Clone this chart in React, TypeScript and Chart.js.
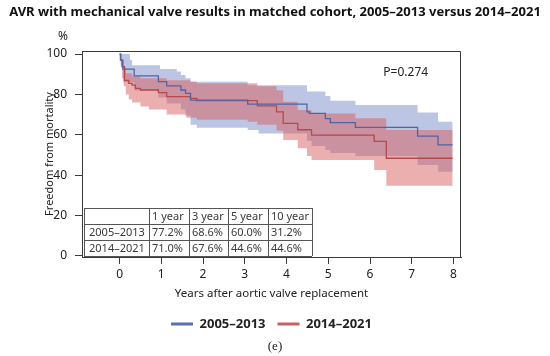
import React, { useEffect, useRef } from 'react';
import { Chart, registerables } from 'chart.js';

Chart.register(...registerables);

const TITLE = 'AVR with mechanical valve results in matched cohort, 2005–2013 versus 2014–2021';
const CAPTION = '(e)';
const X_TITLE = 'Years after aortic valve replacement';
const Y_TITLE = 'Freedom from mortality';
const Y_UNIT = '%';
const P_VALUE = 'P=0.274';
const P_AT = [6.32, 90.8];
const GROUPS = ['2005–2013', '2014–2021'];

const X_TICKS = [0, 1, 2, 3, 4, 5, 6, 7, 8];
const Y_TICKS = [0, 20, 40, 60, 80, 100];

// 2005–2013 Kaplan–Meier estimate and confidence band
const earlyTime = [0, 0.03, 0.08, 0.35, 0.93, 1.13, 1.47, 1.58, 1.7, 3.07, 4.49, 4.55, 4.93, 5.05, 5.65, 7.14, 7.63, 7.98];
const earlySurv = [100, 97, 92.5, 89.2, 86.3, 84.2, 82.2, 80.5, 77.2, 75.2, 71.4, 70.6, 68, 66, 63.7, 59.4, 55, 55];
const earlyHiTime = [0, 0.25, 0.3, 0.97, 1.37, 1.47, 1.58, 1.7, 3.07, 4.49, 4.93, 5.05, 5.65, 7.14, 7.63, 7.98];
const earlyHi = [100, 97, 94.5, 92.6, 91.3, 89.6, 88, 86.3, 84.6, 81.5, 79.2, 76.9, 74.8, 71, 66.5, 66.5];
const earlyLoTime = [0, 0.03, 0.08, 0.35, 0.93, 1.13, 1.47, 1.58, 1.7, 1.85, 3.07, 3.33, 4.49, 4.6, 4.93, 5.05, 5.65, 7.14, 7.63, 7.98];
const earlyLo = [100, 94, 86, 82, 78.5, 75.5, 72.5, 69.5, 65, 63.5, 62.4, 60.7, 57, 54.5, 52.5, 51, 49.5, 45, 41.7, 41.7];

// 2014–2021 Kaplan–Meier estimate and confidence band
const lateTime = [0, 0.02, 0.06, 0.12, 0.22, 0.3, 0.38, 0.5, 0.93, 1.13, 1.7, 1.85, 3.3, 3.76, 3.92, 4.27, 4.6, 6.1, 6.39, 7.98];
const lateSurv = [100, 97, 93.7, 87, 85.5, 84.6, 83, 82.2, 80.9, 78.9, 78, 76.9, 74.3, 71.4, 65.7, 62.5, 59.8, 56.8, 48.4, 48.4];
const lateHiTime = [0, 0.03, 0.08, 0.15, 0.3, 0.5, 1.13, 1.7, 1.85, 3.3, 3.76, 3.92, 4.27, 4.6, 5.65, 6.39, 7.98];
const lateHi = [100, 97, 93, 90.5, 89, 88, 87, 86.3, 85.5, 84, 82, 76.4, 72.3, 70.6, 68.2, 62.4, 62.4];
const lateLoTime = [0, 0.03, 0.06, 0.1, 0.15, 0.22, 0.3, 0.5, 0.7, 1.13, 1.6, 1.85, 3.07, 3.3, 3.76, 3.92, 4.27, 4.49, 4.6, 6.1, 6.39, 7.98];
const lateLo = [100, 95, 88, 84, 80, 77.5, 76, 74, 72.5, 70, 68.5, 67.5, 66.5, 65, 62, 57.4, 53.3, 49.5, 47.5, 42.6, 34.8, 34.8];

// survival table
const TABLE_HEAD = ['', '1 year', '3 year', '5 year', '10 year'];
const TABLE_EARLY = ['77.2%', '68.6%', '60.0%', '31.2%'];
const TABLE_LATE = ['71.0%', '67.6%', '44.6%', '44.6%'];

const BLUE_LINE = '#4f64a6';
const RED_LINE = '#b8484a';
const BLUE_LEG = '#5a6fae';
const RED_LEG = '#c9605f';
const BLUE_BAND = 'rgba(112,132,198,0.47)';
const RED_BAND = 'rgba(218,96,96,0.5)';
const AXIS = '#3a3a3a';
const TEXT = '#222222';
const FONT = "'Noto Sans', sans-serif";

const pts = (xs: number[], ys: number[]) => xs.map((x, i) => ({ x, y: ys[i] }));

const extras = {
  id: 'extras',
  afterDraw(chart: any) {
    const { ctx, chartArea: a, scales } = chart;
    ctx.save();
    ctx.strokeStyle = AXIS;
    ctx.lineWidth = 1;
    ctx.beginPath();
    ctx.moveTo(a.left, a.top + 0.5);
    ctx.lineTo(a.right - 0.5, a.top + 0.5);
    ctx.lineTo(a.right - 0.5, a.bottom);
    ctx.stroke();

    ctx.fillStyle = TEXT;
    ctx.font = `12px ${FONT}`;
    ctx.textBaseline = 'middle';
    ctx.textAlign = 'center';
    ctx.fillText(Y_UNIT, a.left - 19, a.top - 14);
    ctx.textAlign = 'left';
    ctx.fillText(P_VALUE, scales.x.getPixelForValue(P_AT[0]), scales.y.getPixelForValue(P_AT[1]));

    // table
    const colW = [65, 40, 39, 40, 44];
    const rowH = 16;
    const left = a.left + 2;
    const bottom = a.bottom - 1;
    const top = bottom - rowH * 3;
    const rows = [TABLE_HEAD, [GROUPS[0], ...TABLE_EARLY], [GROUPS[1], ...TABLE_LATE]];
    const totalW = colW.reduce((s, w) => s + w, 0);
    ctx.fillStyle = '#ffffff';
    ctx.fillRect(left, top, totalW, rowH * 3);
    ctx.strokeStyle = '#555555';
    ctx.beginPath();
    for (let r = 0; r <= 3; r++) {
      const yy = Math.round(top + r * rowH) + 0.5;
      ctx.moveTo(left, yy);
      ctx.lineTo(left + totalW, yy);
    }
    let cx = left;
    for (let c = 0; c <= colW.length; c++) {
      const xx = Math.round(cx) + 0.5;
      ctx.moveTo(xx, top);
      ctx.lineTo(xx, top + rowH * 3);
      if (c < colW.length) cx += colW[c];
    }
    ctx.stroke();
    ctx.font = `11px ${FONT}`;
    ctx.fillStyle = '#3a3a3a';
    ctx.textAlign = 'left';
    rows.forEach((row, r) => {
      let x0 = left;
      row.forEach((cell, c) => {
        if (cell) ctx.fillText(cell, x0 + (c === 0 ? 5 : 3), top + r * rowH + rowH / 2 + 0.5);
        x0 += colW[c];
      });
    });
    ctx.restore();
  },
};

export default function App() {
  const ref = useRef<HTMLCanvasElement>(null);
  useEffect(() => {
    document.body.style.margin = '0';
    if (!ref.current) return;
    const lineDs = (label: string, data: any, color: string) => ({
      label, data, borderColor: color, borderWidth: 1.3, pointRadius: 0, stepped: true, fill: false,
    });
    const bandDs = (label: string, data: any, color: string, fill: any) => ({
      label, data, borderWidth: 0, borderColor: 'rgba(0,0,0,0)', backgroundColor: color, pointRadius: 0, stepped: true, fill,
    });
    const chart = new Chart(ref.current, {
      type: 'line',
      data: {
        datasets: [
          lineDs(GROUPS[0], pts(earlyTime, earlySurv), BLUE_LINE),
          lineDs(GROUPS[1], pts(lateTime, lateSurv), RED_LINE),
          bandDs('late hi', pts(lateHiTime, lateHi), RED_BAND, '+1'),
          bandDs('late lo', pts(lateLoTime, lateLo), RED_BAND, false),
          bandDs('early hi', pts(earlyHiTime, earlyHi), BLUE_BAND, '+1'),
          bandDs('early lo', pts(earlyLoTime, earlyLo), BLUE_BAND, false),
        ] as any,
      },
      options: {
        animation: false,
        responsive: false,
        devicePixelRatio: 1,
        layout: { padding: 0 },
        plugins: {
          tooltip: { enabled: false },
          title: {
            display: true, text: TITLE, color: '#111',
            font: { family: FONT, size: 13, weight: 'bold', lineHeight: 1.2 },
            padding: { top: 4, bottom: 31.4 },
          },
          subtitle: {
            display: true, text: CAPTION, position: 'bottom', color: TEXT,
            font: { family: "'Liberation Serif', serif", size: 13, lineHeight: 1 },
            padding: { top: 0, bottom: 2.5 },
          },
          legend: {
            display: true, position: 'bottom', fullSize: false,
            labels: {
              usePointStyle: true, pointStyleWidth: 22, boxHeight: 13, padding: 12, color: TEXT,
              font: { family: FONT, size: 13, weight: 'bold' },
              generateLabels: () => GROUPS.map((g, i) => ({
                text: g, strokeStyle: i === 0 ? BLUE_LEG : RED_LEG, fillStyle: i === 0 ? BLUE_LEG : RED_LEG,
                lineWidth: 3, pointStyle: 'line', hidden: false, datasetIndex: i, fontColor: TEXT,
              })),
            },
          },
        },
        scales: {
          x: {
            type: 'linear', min: -0.9, max: 8.18,
            afterBuildTicks: (s: any) => { s.ticks = X_TICKS.map((v) => ({ value: v })); },
            afterFit: (s: any) => { s.height = 48.5; },
            grid: { drawOnChartArea: false, drawTicks: true, tickLength: 7, color: AXIS },
            border: { display: true, color: AXIS, width: 1 },
            ticks: { color: TEXT, padding: 3, font: { family: FONT, size: 12 } },
            title: { display: true, text: X_TITLE, color: TEXT, font: { family: FONT, size: 11.5 }, padding: { top: 0, bottom: 4.6 } },
          },
          y: {
            type: 'linear', min: -0.5, max: 101.5,
            afterBuildTicks: (s: any) => { s.ticks = Y_TICKS.map((v) => ({ value: v })); },
            afterFit: (s: any) => { s.width = 82; },
            grid: { drawOnChartArea: false, drawTicks: true, tickLength: 7, color: AXIS },
            border: { display: true, color: AXIS, width: 1 },
            ticks: { color: TEXT, padding: 8, font: { family: FONT, size: 12 } },
            title: { display: true, text: Y_TITLE, color: TEXT, font: { family: FONT, size: 11 }, padding: { top: 43.4, bottom: 0 } },
          },
          yR: {
            type: 'linear', position: 'right', display: true,
            afterFit: (s: any) => { s.width = 89; },
            grid: { display: false, drawOnChartArea: false, drawTicks: false },
            border: { display: false },
            ticks: { display: false },
          },
        } as any,
      },
      plugins: [extras],
    });
    return () => chart.destroy();
  }, []);
  return (
    <div style={{ width: 550, height: 356 }}>
      <canvas ref={ref} width={550} height={356} />
    </div>
  );
}
